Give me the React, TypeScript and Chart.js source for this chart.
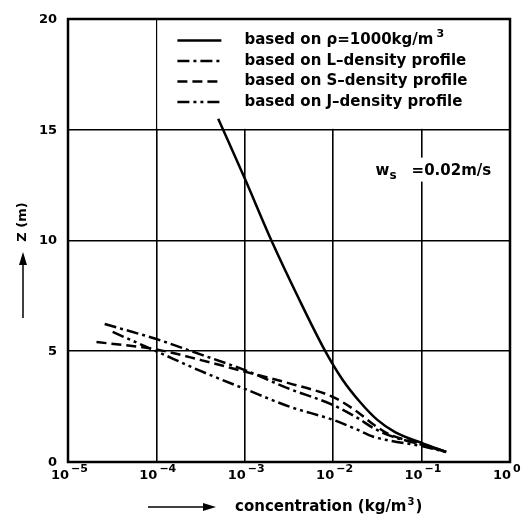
import { useEffect, useRef } from "react";
import { Chart, registerables } from "chart.js";

Chart.register(...registerables);

// ---- data (concentration in kg/m^3, height Z in m) ----
const concRho = [5.0e-4, 1.0e-3, 2.0e-3, 4.0e-3, 7.9e-3, 1.26e-2, 2.0e-2, 3.16e-2, 5.0e-2, 1.0e-1, 1.9e-1];
const zRho = [15.5, 12.8, 10.0, 7.45, 5.1, 3.75, 2.72, 1.9, 1.35, 0.86, 0.45];

const concL = [2.6e-5, 1e-4, 3.2e-4, 1e-3, 3.2e-3, 1e-2, 1.9e-2, 2.8e-2, 4.3e-2, 1e-1, 1.9e-1];
const zL = [6.23, 5.55, 4.85, 4.15, 3.3, 2.57, 1.98, 1.55, 1.2, 0.78, 0.45];

const concS = [2.1e-5, 1e-4, 3.2e-4, 1e-3, 3.2e-3, 1e-2, 1.9e-2, 2.8e-2, 4.3e-2, 1e-1, 1.9e-1];
const zS = [5.42, 5.08, 4.6, 4.08, 3.55, 2.93, 2.25, 1.72, 1.25, 0.82, 0.45];

const concJ = [3.2e-5, 1e-4, 3.2e-4, 1e-3, 3.2e-3, 1e-2, 1.9e-2, 2.8e-2, 4.3e-2, 1e-1, 1.9e-1];
const zJ = [5.87, 5.0, 4.1, 3.3, 2.5, 1.9, 1.45, 1.15, 0.97, 0.72, 0.45];

const X_DECADES = [1e-5, 1e-4, 1e-3, 1e-2, 1e-1, 1];
const X_EXPONENTS = ["\u22125", "\u22124", "\u22123", "\u22122", "\u22121", "0"];
const Y_TICKS = [0, 5, 10, 15, 20];

const LEGEND_LABELS = [
  "based on \u03c1=1000kg/m",
  "based on L\u2013density profile",
  "based on S\u2013density profile",
  "based on J\u2013density profile",
];
const LEGEND_SUPER = ["3", "", "", ""];
const DASHES: number[][] = [[], [12, 4, 3, 4], [10, 5], [12, 4, 3, 4, 3, 4]];

const X_TITLE = "concentration (kg/m";
const X_TITLE_SUP = "3";
const Y_TITLE = "Z (m)";
const NOTE_MAIN = "w";
const NOTE_SUB = "s";
const NOTE_REST = "=0.02m/s";

const DJ = '"DejaVu Sans", sans-serif';

const mk = (c: number[], z: number[]) => c.map((v, i) => ({ x: v, y: z[i] }));

const decor = {
  id: "decor",
  beforeDatasetsDraw(chart: any) {
    const { ctx, scales } = chart;
    const x = scales.x, y = scales.y;
    ctx.save();
    // legend box (white, covering grid)
    const lx0 = x.getPixelForValue(1e-4);
    const lx1 = x.getPixelForValue(1);
    const ly0 = y.getPixelForValue(20);
    const ly1 = y.getPixelForValue(15);
    ctx.fillStyle = "#fff";
    ctx.fillRect(lx0 + 0.9, ly0, lx1 - lx0 - 0.9, ly1 - ly0 - 0.9);

    ctx.strokeStyle = "#000";
    ctx.fillStyle = "#000";
    ctx.lineWidth = 2.5;
    ctx.textBaseline = "middle";
    for (let i = 0; i < LEGEND_LABELS.length; i++) {
      const ry = ly0 + 21.5 + i * 20.5;
      ctx.setLineDash(DASHES[i]);
      ctx.beginPath();
      ctx.moveTo(lx0 + 21, ry);
      ctx.lineTo(lx0 + 65, ry);
      ctx.stroke();
      ctx.setLineDash([]);
      ctx.font = `bold 15px ${DJ}`;
      ctx.textAlign = "left";
      ctx.fillText(LEGEND_LABELS[i], lx0 + 88, ry);
      if (LEGEND_SUPER[i]) {
        const w = ctx.measureText(LEGEND_LABELS[i]).width;
        ctx.font = `bold 11px ${DJ}`;
        ctx.fillText(LEGEND_SUPER[i], lx0 + 88 + w + 3, ry - 6);
      }
    }

    // annotation w_s = 0.02 m/s
    const ax = x.getPixelForValue(0.1);
    const ay = y.getPixelForValue(13.2);
    ctx.font = `bold 15px ${DJ}`;
    ctx.textAlign = "left";
    ctx.textBaseline = "alphabetic";
    const restW = ctx.measureText(NOTE_REST).width;
    ctx.fillStyle = "#fff";
    ctx.fillRect(ax - 12, ay - 12, restW + 4, 24);
    ctx.fillStyle = "#000";
    ctx.fillText(NOTE_MAIN, ax - 46, ay + 5);
    ctx.font = `bold 12px ${DJ}`;
    ctx.fillText(NOTE_SUB, ax - 32, ay + 9);
    ctx.font = `bold 15px ${DJ}`;
    ctx.fillText(NOTE_REST, ax - 10, ay + 5);
    ctx.restore();
  },
  afterDatasetsDraw(chart: any) {
    const { ctx, chartArea: a, scales } = chart;
    const x = scales.x, y = scales.y;
    ctx.save();
    ctx.strokeStyle = "#000";
    ctx.lineWidth = 2.5;
    ctx.strokeRect(a.left, a.top, a.right - a.left, a.bottom - a.top);

    // y tick labels
    ctx.fillStyle = "#000";
    ctx.font = `bold 13px ${DJ}`;
    ctx.textAlign = "right";
    ctx.textBaseline = "middle";
    for (const v of Y_TICKS) {
      ctx.fillText(String(v), a.left - 11, y.getPixelForValue(v) + 0.5);
    }
    // x tick labels 10^n
    ctx.textBaseline = "alphabetic";
    X_DECADES.forEach((v, i) => {
      const px = x.getPixelForValue(v);
      ctx.font = `bold 13px ${DJ}`;
      ctx.textAlign = "right";
      ctx.fillText("10", px + 1, a.bottom + 17);
      ctx.font = `bold 11px ${DJ}`;
      ctx.textAlign = "left";
      ctx.fillText(X_EXPONENTS[i], px + 3, a.bottom + 10);
    });

    // x title with arrow
    const ty = a.bottom + 45;
    ctx.lineWidth = 1.5;
    ctx.beginPath();
    ctx.moveTo(148, ty);
    ctx.lineTo(206, ty);
    ctx.stroke();
    ctx.beginPath();
    ctx.moveTo(216, ty);
    ctx.lineTo(203, ty - 4);
    ctx.lineTo(203, ty + 4);
    ctx.closePath();
    ctx.fill();
    ctx.font = `bold 15px ${DJ}`;
    ctx.textAlign = "left";
    ctx.textBaseline = "middle";
    ctx.fillText(X_TITLE, 235, ty);
    const w = ctx.measureText(X_TITLE).width;
    ctx.font = `bold 10px ${DJ}`;
    ctx.fillText(X_TITLE_SUP, 235 + w + 1, ty - 5);
    const sw = ctx.measureText(X_TITLE_SUP).width;
    ctx.font = `bold 15px ${DJ}`;
    ctx.fillText(")", 235 + w + sw + 2, ty);

    // y title with arrow
    ctx.save();
    ctx.translate(23, 222);
    ctx.rotate(-Math.PI / 2);
    ctx.font = `bold 13px ${DJ}`;
    ctx.textAlign = "center";
    ctx.textBaseline = "middle";
    ctx.fillText(Y_TITLE, 0, 0);
    ctx.restore();
    ctx.beginPath();
    ctx.moveTo(23, 318);
    ctx.lineTo(23, 262);
    ctx.stroke();
    ctx.beginPath();
    ctx.moveTo(23, 252);
    ctx.lineTo(19, 265);
    ctx.lineTo(27, 265);
    ctx.closePath();
    ctx.fill();
    ctx.restore();
  },
};

export default function App() {
  const ref = useRef<HTMLCanvasElement | null>(null);
  useEffect(() => {
    if (!ref.current) return;
    const base = {
      borderColor: "#000",
      borderWidth: 2.5,
      pointRadius: 0,
      fill: false,
      cubicInterpolationMode: "monotone" as const,
    };
    const chart = new Chart(ref.current, {
      type: "line",
      data: {
        datasets: [
          { ...base, label: LEGEND_LABELS[0], data: mk(concRho, zRho), borderDash: DASHES[0] },
          { ...base, label: LEGEND_LABELS[1], data: mk(concL, zL), borderDash: DASHES[1] },
          { ...base, label: LEGEND_LABELS[2], data: mk(concS, zS), borderDash: DASHES[2] },
          { ...base, label: LEGEND_LABELS[3], data: mk(concJ, zJ), borderDash: DASHES[3] },
        ],
      },
      options: {
        responsive: false,
        animation: false,
        devicePixelRatio: 1,
        layout: { padding: { top: 19, right: 12, left: 0, bottom: 0 } },
        plugins: { legend: { display: false }, tooltip: { enabled: false } },
        scales: {
          x: {
            type: "logarithmic",
            min: 1e-5,
            max: 1,
            afterBuildTicks: (s: any) => {
              s.ticks = X_DECADES.map((v) => ({ value: v, major: true }));
            },
            ticks: { display: false },
            grid: { color: "#000", lineWidth: 1.6, drawTicks: false },
            border: { display: false },
            afterFit: (s: any) => {
              s.height = 53;
              s.paddingLeft = 0;
              s.paddingRight = 0;
            },
          },
          y: {
            type: "linear",
            min: 0,
            max: 20,
            afterBuildTicks: (s: any) => {
              s.ticks = Y_TICKS.map((v) => ({ value: v }));
            },
            ticks: { display: false },
            grid: { color: "#000", lineWidth: 1.6, drawTicks: false },
            border: { display: false },
            afterFit: (s: any) => {
              s.width = 68;
              s.paddingTop = 0;
              s.paddingBottom = 0;
            },
          },
        },
      } as any,
      plugins: [decor],
    });
    return () => chart.destroy();
  }, []);
  return (
    <div style={{ position: "absolute", left: 0, top: 0, width: 522, height: 515, background: "#fff" }}>
      <canvas ref={ref} width={522} height={515} style={{ display: "block" }} />
    </div>
  );
}
